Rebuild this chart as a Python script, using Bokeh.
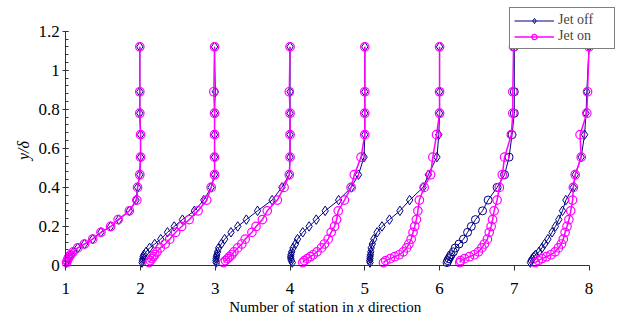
import numpy as np
from bokeh.plotting import figure
from bokeh.models import (Range1d, FixedTicker, CustomJSTickFormatter, Legend,
                          LegendItem, Label)
from bokeh.embed import file_html
from bokeh.resources import INLINE

# ---------------- data ----------------
stations = [1, 2, 3, 4, 5, 6, 7]
x_ticks = [1, 2, 3, 4, 5, 6, 7, 8]
y_ticks = [0, 0.2, 0.4, 0.6, 0.8, 1.0, 1.2]

# y/delta levels of the measurement points (shared by all profiles)
y_delta = [1.12, 0.89, 0.78, 0.67, 0.555, 0.465, 0.40, 0.335, 0.28, 0.235, 0.20,
           0.17, 0.135, 0.11, 0.09, 0.07, 0.055, 0.045, 0.035, 0.025, 0.015]

# velocity ratio u/U at each level, jet off
off_s1 = [0.99, 0.99, 0.99, 1.0, 1.0, 0.99, 0.96, 0.94, 0.85, 0.71, 0.60, 0.47, 0.36, 0.25, 0.16, 0.105, 0.07, 0.045, 0.03, 0.02, 0.012]
off_s2 = [0.99, 1.0, 0.99, 0.99, 0.99, 0.99, 0.945, 0.846, 0.72, 0.56, 0.45, 0.36, 0.27, 0.19, 0.12, 0.075, 0.045, 0.035, 0.03, 0.025, 0.02]
off_s3 = [1.0, 1.0, 1.0, 1.0, 1.0, 0.99, 0.89, 0.76, 0.565, 0.415, 0.30, 0.21, 0.125, 0.08, 0.045, 0.03, 0.02, 0.015, 0.01, 0.008, 0.012]
off_s4 = [1.0, 1.0, 1.0, 1.0, 0.99, 0.915, 0.82, 0.65, 0.47, 0.35, 0.255, 0.17, 0.10, 0.072, 0.04, 0.022, 0.012, 0.008, 0.01, 0.018, 0.03]
off_s5 = [1.0, 1.0, 1.0, 0.99, 0.965, 0.85, 0.78, 0.60, 0.47, 0.33, 0.23, 0.165, 0.12, 0.10, 0.085, 0.08, 0.075, 0.07, 0.07, 0.065, 0.07]
off_s6 = [1.0, 1.0, 1.0, 0.97, 0.93, 0.87, 0.77, 0.65, 0.575, 0.48, 0.425, 0.375, 0.32, 0.26, 0.21, 0.185, 0.155, 0.14, 0.125, 0.11, 0.10]
off_s7 = [1.0, 0.97, 0.96, 0.94, 0.895, 0.815, 0.79, 0.69, 0.645, 0.595, 0.55, 0.505, 0.45, 0.405, 0.37, 0.33, 0.285, 0.26, 0.24, 0.225, 0.215]

# velocity ratio u/U at each level, jet on
on_s1 = [0.99, 0.99, 0.99, 1.0, 1.0, 0.99, 0.96, 0.95, 0.85, 0.70, 0.60, 0.47, 0.36, 0.25, 0.16, 0.10, 0.065, 0.045, 0.03, 0.02, 0.01]
on_s2 = [0.99, 0.98, 0.99, 0.99, 0.99, 0.99, 0.945, 0.886, 0.77, 0.65, 0.55, 0.47, 0.39, 0.33, 0.263, 0.22, 0.19, 0.17, 0.15, 0.13, 0.115]
on_s3 = [1.0, 0.99, 1.0, 1.0, 1.0, 0.99, 0.92, 0.83, 0.695, 0.63, 0.545, 0.49, 0.40, 0.355, 0.30, 0.25, 0.22, 0.19, 0.165, 0.135, 0.11]
on_s4 = [1.0, 1.0, 1.0, 1.0, 0.95, 0.86, 0.817, 0.728, 0.645, 0.623, 0.595, 0.55, 0.51, 0.46, 0.42, 0.36, 0.31, 0.27, 0.23, 0.19, 0.17]
on_s5 = [1.0, 1.0, 1.0, 0.96, 0.91, 0.88, 0.794, 0.73, 0.71, 0.69, 0.668, 0.645, 0.62, 0.59, 0.56, 0.515, 0.46, 0.40, 0.34, 0.28, 0.25]
on_s6 = [0.99, 0.98, 0.98, 0.96, 0.87, 0.84, 0.80, 0.77, 0.73, 0.71, 0.69, 0.665, 0.64, 0.60, 0.565, 0.52, 0.465, 0.40, 0.335, 0.28, 0.27]
on_s7 = [1.0, 0.98, 0.97, 0.88, 0.895, 0.815, 0.79, 0.78, 0.755, 0.73, 0.705, 0.68, 0.655, 0.63, 0.59, 0.545, 0.49, 0.43, 0.37, 0.32, 0.28]

off_markers = ["diamond", "diamond", "diamond", "diamond", "diamond", "circle", "diamond"]

jet_off = [off_s1, off_s2, off_s3, off_s4, off_s5, off_s6, off_s7]
jet_on = [on_s1, on_s2, on_s3, on_s4, on_s5, on_s6, on_s7]

# ---------------- styles ----------------
NAVY = "#000080"
MAGENTA = "#FF00FF"
FONT = "Liberation Serif"
AXIS_COLOR = "#333333"

W, H = 622, 316
# pixel placement of the data area: x=1 at 65.3 px, 74.75 px per station;
# y=0 at 265 px from top, 195.25 px per unit of y/delta
X0_PX, X_SCALE = 65.3, 74.75
Y0_PX, Y_SCALE = 265.0, 195.25
x_start = 1 - X0_PX / X_SCALE
x_end = 1 + (W - X0_PX) / X_SCALE
y_start = -(H - Y0_PX) / Y_SCALE
y_end = Y0_PX / Y_SCALE

p = figure(width=W, height=H,
           x_range=Range1d(x_start, x_end), y_range=Range1d(y_start, y_end),
           output_backend="svg", toolbar_location=None,
           min_border_left=0, min_border_right=0,
           min_border_top=0, min_border_bottom=0)
p.title.visible = False
p.outline_line_color = None
p.grid.visible = False
p.background_fill_color = "white"
p.border_fill_color = "white"

# axes (drawn at y=0 and x=1 inside the plotting area)
xa = p.xaxis[0]
xa.fixed_location = 0
xa.bounds = (1, 8)
xa.ticker = FixedTicker(ticks=x_ticks)
xa.major_tick_out = 5
xa.major_tick_in = 0
xa.major_label_standoff = 12

ya = p.yaxis[0]
ya.fixed_location = 1
ya.bounds = (0, 1.2)
ya.ticker = FixedTicker(ticks=y_ticks,
                        minor_ticks=[round(0.04 * i, 2) for i in range(31)])
ya.major_tick_in = 3
ya.major_tick_out = 3
ya.minor_tick_in = 3
ya.minor_tick_out = 0
ya.major_label_standoff = 3

fmt = CustomJSTickFormatter(code="return String(Math.round(tick*10)/10);")
for ax in (xa, ya):
    ax.axis_line_color = AXIS_COLOR
    ax.major_tick_line_color = AXIS_COLOR
    ax.major_label_text_font = FONT
    ax.major_label_text_font_size = "17px"
    ax.major_label_text_color = "black"
    ax.formatter = fmt
xa.minor_tick_line_color = None
ya.minor_tick_line_color = AXIS_COLOR

# ---------------- glyphs ----------------
off_renderers = []
on_renderers = []
for st, u, mk in zip(stations, jet_off, off_markers):
    xs = [st + v for v in u]
    ln = p.line(xs, y_delta, line_color=NAVY, line_width=1)
    if mk == "diamond":
        sc = p.scatter(xs, y_delta, marker="diamond", size=9.5,
                       line_color=NAVY, line_width=1, fill_alpha=0)
    else:
        sc = p.scatter(xs, y_delta, marker="circle", size=8,
                       line_color=NAVY, line_width=1, fill_alpha=0)
    off_renderers.append((ln, sc))

for st, u in zip(stations, jet_on):
    xs = [st + v for v in u]
    ln = p.line(xs, y_delta, line_color=MAGENTA, line_width=1.5)
    sc = p.scatter(xs, y_delta, marker="circle", size=8.5,
                   line_color=MAGENTA, line_width=1.2, fill_alpha=0)
    on_renderers.append((ln, sc))

legend = Legend(items=[
    LegendItem(label="Jet off", renderers=list(off_renderers[0])),
    LegendItem(label="Jet on", renderers=list(on_renderers[0])),
], location="top_right")
legend.margin = 7
legend.border_line_color = "black"
legend.border_line_width = 1
legend.background_fill_color = "white"
legend.background_fill_alpha = 1
legend.padding = 4
legend.spacing = 0
legend.glyph_width = 40
legend.glyph_height = 13
legend.label_height = 13
legend.label_width = 52
legend.label_standoff = 4
legend.label_text_font = FONT
legend.label_text_font_size = "14px"
p.add_layout(legend)

# axis titles
common = dict(x_units="screen", y_units="screen", text_font=FONT,
              text_font_size="15px", text_color="black",
              text_baseline="middle")
p.add_layout(Label(x=228.7, y=10, text="Number of station in", **common))
p.add_layout(Label(x=357.0, y=10, text="x", text_font_style="italic", **common))
p.add_layout(Label(x=367.4, y=10, text="direction", **common))
p.add_layout(Label(x=23, y=H - 150, text="y/δ", angle=np.pi / 2,
                   x_units="screen", y_units="screen", text_font=FONT,
                   text_font_size="16px", text_font_style="italic",
                   text_color="black", text_align="center",
                   text_baseline="middle"))

open("out.html", "w").write(file_html(p, INLINE))
